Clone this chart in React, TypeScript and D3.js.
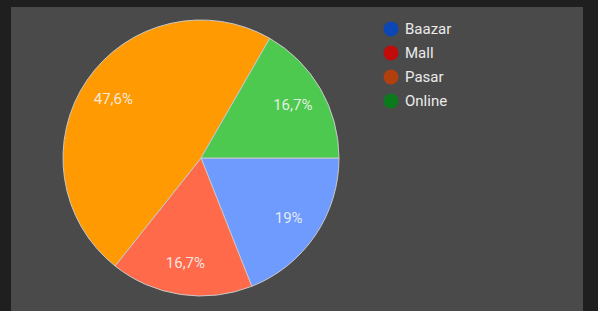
import { useEffect, useRef } from "react";
import * as d3 from "d3";

const categories = ["Baazar", "Mall", "Pasar", "Online"];
const values = [19, 16.7, 47.6, 16.7];
const sliceColors = ["#6f9bff", "#ff6b4a", "#ff9a02", "#4ec94f"];
const legendColors = ["#0d47b5", "#c20c0c", "#b2400f", "#0b7a1d"];

export default function App() {
  const svgRef = useRef<SVGSVGElement>(null);

  useEffect(() => {
    const svg = d3.select(svgRef.current);
    svg.selectAll("*").remove();

    const width = 598;
    const height = 311;

    // page background + panel
    svg.append("rect").attr("width", width).attr("height", height).attr("fill", "#1f1f1f");
    svg
      .append("rect")
      .attr("x", 11)
      .attr("y", 7)
      .attr("width", 572)
      .attr("height", height)
      .attr("fill", "#4a4a4a");

    const data = categories.map((c, i) => ({ name: c, value: values[i], color: sliceColors[i] }));

    // start at 3 o'clock, clockwise
    const pie = d3
      .pie<any>()
      .sort(null)
      .value((d) => d.value)
      .startAngle(Math.PI / 2)
      .endAngle(Math.PI / 2 + 2 * Math.PI);

    const radius = 138;
    const arc = d3.arc<any>().innerRadius(0).outerRadius(radius);
    const labelArc = d3.arc<any>().innerRadius(106).outerRadius(106);

    const g = svg.append("g").attr("transform", "translate(201,158)");
    const arcs = pie(data);

    g.selectAll("path")
      .data(arcs)
      .enter()
      .append("path")
      .attr("d", arc)
      .attr("fill", (d) => d.data.color)
      .attr("stroke", "#c8c8c8")
      .attr("stroke-width", 1);

    const fmt = (v: number) => String(v).replace(".", ",") + "%";

    g.selectAll("text")
      .data(arcs)
      .enter()
      .append("text")
      .attr("transform", (d) => `translate(${labelArc.centroid(d)})`)
      .attr("text-anchor", "middle")
      .attr("dy", "0.35em")
      .attr("font-family", "Roboto, sans-serif")
      .attr("font-size", 15)
      .attr("fill", "#f4f4f4")
      .attr("fill-opacity", 0.9)
      .text((d) => fmt(d.data.value));

    // legend
    const legend = svg.append("g").attr("transform", "translate(391,29)");
    const rows = legend
      .selectAll("g")
      .data(categories)
      .enter()
      .append("g")
      .attr("transform", (_, i) => `translate(0,${i * 24})`);

    rows
      .append("circle")
      .attr("r", 7.5)
      .attr("fill", (_, i) => legendColors[i]);

    rows
      .append("text")
      .attr("x", 14)
      .attr("dy", "0.35em")
      .attr("font-family", "Roboto, sans-serif")
      .attr("font-size", 15)
      .attr("fill", "#ececec")
      .text((d) => d);
  }, []);

  return (
    <svg
      ref={svgRef}
      width={598}
      height={311}
      viewBox="0 0 598 311"
      style={{ position: "fixed", left: 0, top: 0, display: "block" }}
    />
  );
}
